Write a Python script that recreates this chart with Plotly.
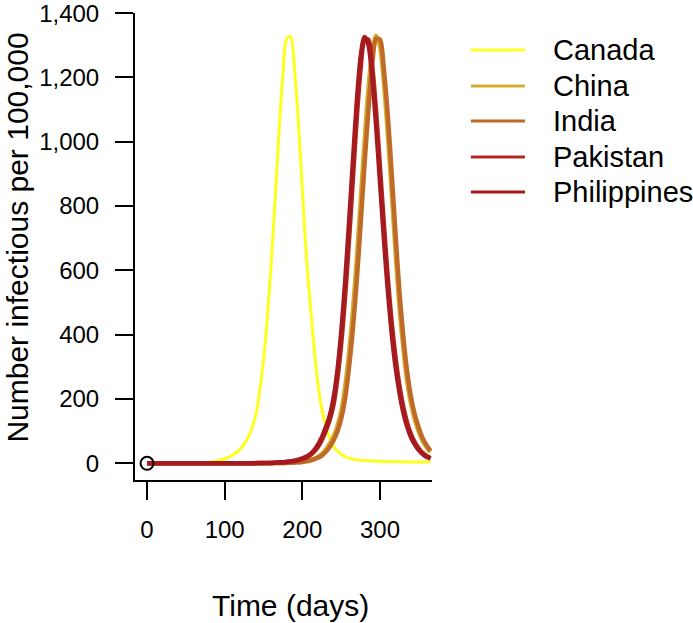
import plotly.graph_objects as go

# days sampled: every 10 days up to 150, then every 5 days
days = [0, 10, 20, 30, 40, 50, 60, 70, 80, 90, 100, 110, 120, 130, 140, 150,
        155, 160, 165, 170, 175, 180, 185, 190, 195, 200,
        205, 210, 215, 220, 225, 230, 235, 240, 245, 250,
        255, 260, 265, 270, 275, 280, 285, 290, 295, 300,
        305, 310, 315, 320, 325, 330, 335, 340, 345, 350,
        355, 360, 365]

countries = ["Canada", "China", "India", "Pakistan", "Philippines"]
colors = ["#FFFF1F", "#D4AE32", "#C06A28", "#B2281E", "#A51A1E"]
widths = [3, 4.5, 4.5, 4.5, 4.5]

canada = [0, 0, 0, 0, 0.1, 0.3, 0.7, 1.5, 3, 7, 14, 25, 44, 80, 150, 320,
          455, 625, 820, 1030, 1210, 1322, 1327, 1226, 1055, 850,
          650, 500, 365, 248, 170, 118, 80, 54, 38, 28,
          21, 16, 13, 11, 9.5, 8.5, 7.5, 7, 6.5, 6,
          5.7, 5.4, 5.1, 4.9, 4.7, 4.5, 4.3, 4.1, 4, 3.9,
          3.8, 3.7, 3.6]
china = [0, 0, 0, 0, 0, 0, 0, 0, 0, 0, 0, 0, 0, 0.1, 0.1, 0.2,
         0.3, 0.4, 0.5, 0.7, 1, 1.4, 1.9, 2.6, 3.6, 5,
         7, 10, 14, 20, 29, 42, 60, 82, 115, 160,
         235, 340, 470, 630, 811, 994, 1160, 1280, 1330, 1296,
         1188, 1028, 848, 660, 490, 360, 255, 185, 135, 98,
         70, 50, 35]
india = [0, 0, 0, 0, 0, 0, 0, 0, 0, 0, 0, 0, 0, 0.1, 0.1, 0.2,
         0.3, 0.4, 0.5, 0.6, 0.9, 1.2, 1.6, 2.2, 3, 4.2,
         6, 8.5, 12, 17, 24, 35, 50, 70, 98, 138,
         200, 295, 415, 565, 740, 925, 1095, 1240, 1320, 1318,
         1225, 1085, 905, 715, 535, 395, 285, 205, 150, 110,
         78, 56, 39]
pakistan = [0, 0, 0, 0, 0, 0, 0, 0, 0, 0, 0.1, 0.1, 0.2, 0.3, 0.4, 0.7,
            0.9, 1.2, 1.6, 2.2, 3, 4, 5.4, 7.2, 10, 13.5,
            18, 25, 36, 51, 72, 100, 133, 180, 260, 370,
            515, 690, 880, 1070, 1225, 1315, 1318, 1235, 1095, 920,
            745, 580, 440, 330, 243, 176, 126, 90, 64, 46,
            32, 23, 16]
philippines = [0, 0, 0, 0, 0, 0, 0, 0, 0, 0, 0.1, 0.1, 0.2, 0.3, 0.5, 0.8,
               1, 1.3, 1.8, 2.5, 3.3, 4.5, 6, 8, 11, 15,
               20, 28, 40, 57, 80, 110, 145, 200, 285, 405,
               560, 743, 933, 1119, 1261, 1326, 1302, 1203, 1051, 875,
               700, 540, 407, 301, 221, 159, 114, 81, 58, 41,
               29, 20, 14]

series = [canada, china, india, pakistan, philippines]

x_ticks = [0, 100, 200, 300]
y_ticks = [0, 200, 400, 600, 800, 1000, 1200, 1400]

FONT = "Liberation Sans, Arial, sans-serif"

fig = go.Figure()

for name, vals, col, w in zip(countries, series, colors, widths):
    fig.add_trace(go.Scatter(
        x=days, y=vals, mode='lines', name=name,
        line=dict(color=col, width=w, shape='spline', smoothing=0.8),
        showlegend=False,
    ))

# starting point marker
fig.add_trace(go.Scatter(
    x=[days[0]], y=[philippines[0]], mode='markers',
    marker=dict(symbol='circle-open', size=13, color='black', line=dict(width=2)),
    showlegend=False,
))

# hand drawn legend, R style
legend_rows = [0.9208, 0.8437, 0.7687, 0.6916, 0.6167]
for name, col, yy in zip(countries, colors, legend_rows):
    fig.add_shape(type='line', xref='paper', yref='paper',
                  x0=1.131, x1=1.313, y0=yy, y1=yy,
                  line=dict(color=col, width=3))
    fig.add_annotation(text=name, xref='paper', yref='paper',
                       x=1.4007, y=yy, xanchor='left', yanchor='middle',
                       showarrow=False, font=dict(size=29, color='black', family=FONT))

fig.add_annotation(text="Time (days)", xref='paper', yref='paper',
                   x=0.522, y=-0.2677, xanchor='center', yanchor='middle',
                   showarrow=False, font=dict(size=30, color='black', family=FONT))
fig.add_annotation(text="Number infectious per 100,000", xref='paper', yref='paper',
                   x=-0.394, y=0.519, xanchor='center', yanchor='middle', textangle=-90,
                   showarrow=False, font=dict(size=30, color='black', family=FONT))

fig.update_xaxes(
    range=[-15.5, 367], tickvals=x_ticks,
    ticks='outside', ticklen=18, tickwidth=2, tickcolor='black',
    showline=True, linewidth=2, linecolor='black',
    showgrid=False, zeroline=False, automargin=False,
    tickfont=dict(size=24, color='black', family=FONT),
    ticklabelstandoff=9,
)
fig.update_yaxes(
    range=[-52, 1400.5], tickvals=y_ticks, tickformat=',',
    ticks='outside', ticklen=18, tickwidth=2, tickcolor='black',
    showline=True, linewidth=2, linecolor='black',
    showgrid=False, zeroline=False, automargin=False,
    tickfont=dict(size=24, color='black', family=FONT),
    ticklabelstandoff=11, ticklabeloverflow='allow',
)

fig.update_layout(
    width=693, height=623,
    margin=dict(l=135, r=261, t=13, b=143),
    paper_bgcolor='white',
    plot_bgcolor='white',
    showlegend=False,
)

# drop the default 8px page margin so the figure sits at the window corner
fig.write_html("out.html", config={'displayModeBar': False},
               post_script="document.body.style.margin='0px';")
